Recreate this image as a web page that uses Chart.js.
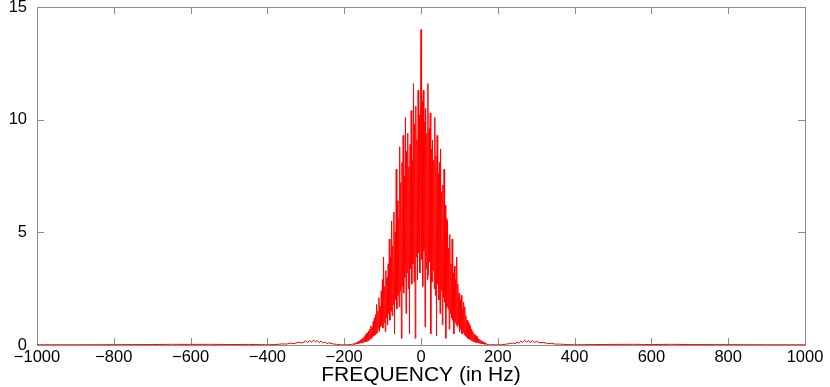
<!DOCTYPE html>
<html>
<head>
<meta charset="utf-8">
<script src="https://cdn.jsdelivr.net/npm/chart.js@4/dist/chart.umd.min.js"></script>
<style>
  html, body { margin: 0; padding: 0; background: #fff; }
  #wrap { width: 830px; height: 387px; }
</style>
</head>
<body>
<div id="wrap"><canvas id="spectrum"></canvas></div>
<script>
// x ticks, y ticks
const xTicks = [-1000, -800, -600, -400, -200, 0, 200, 400, 600, 800, 1000];
const yTicks = [0, 5, 10, 15];

// low side lobes, left of the main band
const leftTailHz = [-1000, -900, -800, -700, -650, -600, -550, -500, -450, -400, -380, -360, -350, -340, -330, -320, -310, -300, -295, -290, -285, -280, -275, -270, -265, -260, -255, -250, -245, -240, -230, -220, -210, -200, -190];
const leftTailMag = [0.01, 0.01, 0.015, 0.02, 0.03, 0.025, 0.03, 0.02, 0.025, 0.01, 0.02, 0.05, 0.04, 0.08, 0.06, 0.12, 0.09, 0.18, 0.1, 0.2, 0.12, 0.22, 0.14, 0.2, 0.1, 0.18, 0.09, 0.14, 0.06, 0.1, 0.05, 0.03, 0.01, 0.005, 0.01];

// main band, -180 .. 180 Hz, one reading every 1.5 Hz
const coreStartHz = -180;
const coreStepHz = 1.5;
const coreMag = [
  0.02, 0.04, 0.02, 0.06, 0.03, 0.08, 0.04, 0.1, 0.05, 0.12,
  0.06, 0.15, 0.07, 0.18, 0.08, 0.22, 0.1, 0.26, 0.09, 0.3,
  0.12, 0.36, 0.14, 0.42, 0.16, 0.5, 0.15, 0.55, 0.2, 0.62,
  0.22, 0.7, 0.3, 0.85, 0.28, 0.8, 0.35, 1.05, 0.4, 1.2,
  0.45, 1.35, 0.5, 1.8, 0.55, 1.5, 0.7, 2.1, 0.6, 1.7,
  0.8, 2.4, 0.9, 2.9, 0.75, 3.9, 1.0, 2.6, 0.6, 3.3,
  1.2, 3.0, 0.9, 3.6, 1.4, 4.7, 1.1, 3.9, 1.5, 5.5,
  1.3, 4.4, 1.8, 5.9, 0.5, 5.0, 2.0, 7.8, 1.6, 6.4,
  2.2, 5.6, 1.7, 8.8, 2.4, 7.2, 0.3, 8.1, 2.6, 9.3,
  2.3, 7.5, 3.0, 10.1, 1.4, 8.6, 3.2, 9.4, 2.5, 7.9,
  0.5, 8.9, 3.4, 10.4, 2.7, 8.2, 3.6, 11.6, 2.8, 9.8,
  0.3, 10.6, 3.9, 9.1, 2.9, 11.3, 4.1, 10.2, 3.2, 8.8,
  14.0,
  3.8, 10.8, 2.6, 11.3, 4.2, 9.9, 0.8, 10.5, 3.4, 9.4,
  2.9, 11.6, 3.1, 9.6, 3.7, 10.3, 0.5, 8.7, 2.8, 9.1,
  3.3, 8.2, 2.5, 10.1, 2.2, 8.4, 0.4, 9.3, 2.7, 7.6,
  2.0, 8.1, 1.4, 8.7, 2.4, 6.8, 0.9, 7.1, 2.1, 7.8,
  1.9, 6.2, 0.3, 5.6, 1.7, 5.5, 1.6, 4.3, 0.7, 4.9,
  1.4, 3.6, 1.2, 4.7, 1.1, 3.2, 0.5, 3.5, 1.0, 2.9,
  0.9, 3.9, 0.8, 2.7, 0.9, 2.3, 0.6, 2.0, 0.7, 2.2,
  0.5, 1.6, 0.55, 1.9, 0.45, 1.7, 0.4, 1.3, 0.35, 1.1,
  0.3, 1.0, 0.28, 0.9, 0.25, 0.8, 0.2, 0.7, 0.18, 0.6,
  0.15, 0.5, 0.14, 0.45, 0.12, 0.4, 0.1, 0.33, 0.09, 0.28,
  0.08, 0.24, 0.07, 0.2, 0.06, 0.16, 0.05, 0.12, 0.04, 0.1,
  0.03, 0.08, 0.03, 0.06, 0.02, 0.04, 0.02, 0.03, 0.01, 0.01
];

// low side lobes, right of the main band
const rightTailHz = [190, 200, 210, 220, 230, 240, 245, 250, 255, 260, 265, 270, 275, 280, 285, 290, 295, 300, 310, 320, 330, 340, 350, 360, 380, 400, 450, 500, 550, 600, 650, 700, 800, 900, 1000];
const rightTailMag = [0.01, 0.005, 0.01, 0.03, 0.06, 0.09, 0.05, 0.13, 0.08, 0.17, 0.11, 0.21, 0.13, 0.2, 0.11, 0.19, 0.1, 0.16, 0.1, 0.11, 0.06, 0.07, 0.04, 0.04, 0.02, 0.01, 0.02, 0.025, 0.03, 0.02, 0.03, 0.02, 0.015, 0.01, 0.01];

var points = [];
leftTailHz.forEach((f, i) => points.push({ x: f, y: leftTailMag[i] }));
coreMag.forEach((m, i) => points.push({ x: coreStartHz + i * coreStepHz, y: m }));
rightTailHz.forEach((f, i) => points.push({ x: f, y: rightTailMag[i] }));

const FONT = '"Liberation Sans", Arial, Helvetica, sans-serif';
const FRAME = '#8c8c8c';

// matlab style box with inward ticks on all four sides
var boxPlugin = {
    id: 'box',
    beforeDatasetsDraw(chart) {
        var ctx = chart.ctx, a = chart.chartArea;
        var xs = chart.scales.x, ys = chart.scales.y;
        var len = 7;
        ctx.save();
        ctx.strokeStyle = FRAME;
        ctx.lineWidth = 1;
        ctx.beginPath();
        xTicks.forEach(v => {
            var px = Math.round(xs.getPixelForValue(v)) + 0.5;
            ctx.moveTo(px, a.bottom); ctx.lineTo(px, a.bottom - len);
            ctx.moveTo(px, a.top); ctx.lineTo(px, a.top + len);
        });
        yTicks.forEach(v => {
            var py = Math.round(ys.getPixelForValue(v)) + 0.5;
            ctx.moveTo(a.left, py); ctx.lineTo(a.left + len, py);
            ctx.moveTo(a.right, py); ctx.lineTo(a.right - len, py);
        });
        ctx.stroke();
        ctx.strokeRect(Math.round(a.left) + 0.5, Math.round(a.top) + 0.5,
            Math.round(a.right - a.left), Math.round(a.bottom - a.top));
        ctx.restore();
    }
};

var ctx = document.getElementById('spectrum').getContext('2d');

var chart = new Chart(ctx, {
    type: 'line',
    data: {
        datasets: [{
            data: points,
            borderColor: '#ff0000',
            borderWidth: 1,
            pointRadius: 0,
            tension: 0,
            fill: false
        }]
    },
    options: {
        responsive: true,
        maintainAspectRatio: false,
        animation: false,
        events: [],
        layout: { padding: { left: 0, right: 25, top: 7, bottom: 0 } },
        plugins: { legend: { display: false }, tooltip: { enabled: false } },
        scales: {
            x: {
                type: 'linear',
                min: -1000,
                max: 1000,
                afterFit: s => { s.height = 42; s.paddingLeft = 0; s.paddingRight = 0; },
                afterBuildTicks: s => { s.ticks = xTicks.map(v => ({ value: v })); },
                grid: { display: false },
                border: { display: false },
                ticks: {
                    color: '#000',
                    font: { family: FONT, size: 16.5 },
                    padding: -5,
                    maxRotation: 0,
                    autoSkip: false,
                    callback: v => String(v).replace('-', '\u2212')
                },
                title: {
                    display: true,
                    text: 'FREQUENCY (in Hz)',
                    color: '#000',
                    font: { family: FONT, size: 21 },
                    padding: { top: 0, bottom: -1 }
                }
            },
            y: {
                type: 'linear',
                min: 0,
                max: 15,
                afterFit: s => { s.width = 37; s.paddingTop = 0; s.paddingBottom = 0; },
                afterBuildTicks: s => { s.ticks = yTicks.map(v => ({ value: v })); },
                grid: { display: false },
                border: { display: false },
                ticks: {
                    color: '#000',
                    font: { family: FONT, size: 16.5 },
                    padding: 2
                }
            }
        }
    },
    plugins: [boxPlugin]
});
</script>
</body>
</html>
